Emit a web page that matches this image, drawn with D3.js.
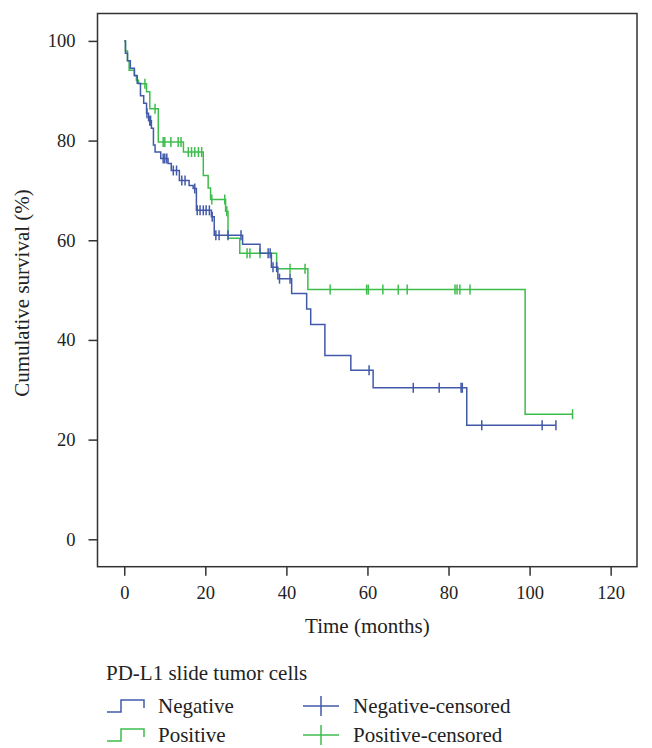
<!DOCTYPE html>
<html>
<head>
<meta charset="utf-8">
<script src="https://cdn.jsdelivr.net/npm/d3@7"></script>
<style>
  html, body { margin: 0; padding: 0; background: #fff; }
  svg { display: block; }
  text { font-family: "Liberation Serif", "DejaVu Serif", serif; fill: #222; }
</style>
</head>
<body>
<svg id="chart" width="652" height="748"></svg>
<script>
// ---------- data ----------
const seriesNames = ["Negative", "Positive"];
const legendTitle = "PD-L1 slide tumor cells";
const xTicks = [0, 20, 40, 60, 80, 100, 120];
const yTicks = [0, 20, 40, 60, 80, 100];

// Negative: event times (months) and survival (%) after each event
const negTimes = [0.3, 0.8, 1.5, 2.5, 3.2, 4.0, 4.8, 5.5, 6.0, 6.7, 7.2, 7.6, 9.0, 10.8, 11.6, 13.6, 16.0, 17.0, 17.8, 21.5, 22.2, 29.2, 33.5, 36.3, 37.9, 41.3, 45.0, 46.0, 49.5, 55.9, 61.4, 84.5];
const negSurv  = [97.5, 96, 94.5, 93, 91.5, 89, 87.5, 85.5, 84, 82.5, 79.1, 77.7, 76.4, 75.4, 74, 72, 71, 70.4, 66, 64.7, 61, 59.2, 57.4, 54.6, 52.3, 49.3, 46.2, 43.1, 36.9, 33.9, 30.4, 22.9];
const negCensor = [5.6, 6.3, 6.5, 9.6, 10.0, 10.5, 12.1, 12.9, 14.2, 15.0, 17.4, 18.0, 18.7, 19.5, 20.2, 21.0, 21.7, 22.6, 23.4, 25.6, 28.8, 35.5, 36.0, 36.7, 37.6, 38.3, 40.9, 60.4, 71.3, 77.7, 83.1, 83.4, 88.2, 103.1, 106.5];

// Positive
const posTimes = [0.3, 0.8, 1.2, 2.5, 3.0, 3.5, 5.5, 6.3, 8.4, 14.6, 19.5, 20.7, 21.3, 25.0, 25.6, 28.5, 37.6, 45.3, 98.9];
const posSurv  = [98, 96, 94.1, 93.1, 92.1, 91.4, 89.8, 86.4, 79.7, 77.7, 73, 70.5, 68.2, 65.8, 60.4, 57.4, 54.3, 50.1, 25.1];
const posCensor = [5.1, 7.6, 9.6, 10.0, 11.5, 13.3, 14.0, 15.8, 16.6, 17.4, 18.3, 19.1, 21.6, 24.8, 25.3, 30.3, 31.0, 33.5, 40.9, 44.6, 50.8, 59.8, 60.2, 63.8, 67.6, 69.8, 81.6, 82.1, 82.8, 85.3, 110.6];

const colors = { Negative: "#4259aa", Positive: "#3fbd4c" };

// ---------- layout ----------
const svg = d3.select("#chart");
const x = d3.scaleLinear().domain([-6.6, 126.5]).range([97.5, 637]);
const y = d3.scaleLinear().domain([-5.5, 105.5]).range([566.7, 13.5]);

// frame
svg.append("rect")
  .attr("x", x.range()[0]).attr("y", y.range()[1])
  .attr("width", x.range()[1] - x.range()[0])
  .attr("height", y.range()[0] - y.range()[1])
  .attr("fill", "none").attr("stroke", "#333").attr("stroke-width", 1.5);

const yAxis = svg.append("g")
  .attr("transform", `translate(${x.range()[0]},0)`)
  .call(d3.axisLeft(y).tickValues(yTicks).tickSize(9).tickPadding(13).tickSizeOuter(0));
const xAxis = svg.append("g")
  .attr("transform", `translate(0,${y.range()[0]})`)
  .call(d3.axisBottom(x).tickValues(xTicks).tickSize(9).tickPadding(10).tickSizeOuter(0));
[xAxis, yAxis].forEach(g => {
  g.select(".domain").remove();
  g.selectAll(".tick line").attr("stroke", "#333").attr("stroke-width", 1.5);
  g.selectAll(".tick text").attr("font-size", 18.5)
    .attr("font-family", '"Liberation Serif", serif').attr("fill", "#222");
});

// axis titles
svg.append("text")
  .attr("x", (x(0) + x(120)) / 2).attr("y", 633)
  .attr("text-anchor", "middle").attr("font-size", 21)
  .text("Time (months)");
svg.append("text")
  .attr("transform", "translate(29,293) rotate(-90)")
  .attr("text-anchor", "middle").attr("font-size", 21)
  .text("Cumulative survival (%)");

// curves
function buildSeries(times, surv, censor) {
  const pts = [[0, 100]];
  times.forEach((t, i) => pts.push([t, surv[i]]));
  const end = Math.max(times[times.length - 1], censor[censor.length - 1]);
  pts.push([end, surv[surv.length - 1]]);
  const survAt = t => {
    let s = 100;
    times.forEach((tt, i) => { if (tt <= t) s = surv[i]; });
    return s;
  };
  return { pts, marks: censor.map(t => [t, survAt(t)]) };
}
const data = {
  Negative: buildSeries(negTimes, negSurv, negCensor),
  Positive: buildSeries(posTimes, posSurv, posCensor)
};
const line = d3.line().x(d => x(d[0])).y(d => y(d[1])).curve(d3.curveStepAfter);

["Positive", "Negative"].forEach(name => {
  const g = svg.append("g");
  g.append("path").datum(data[name].pts)
    .attr("d", line).attr("fill", "none")
    .attr("stroke", colors[name]).attr("stroke-width", 1.5);
  g.selectAll("line.c").data(data[name].marks).join("line")
    .attr("x1", d => x(d[0])).attr("x2", d => x(d[0]))
    .attr("y1", d => y(d[1]) - 5).attr("y2", d => y(d[1]) + 5)
    .attr("stroke", colors[name]).attr("stroke-width", 1.5);
});

// legend
const lg = svg.append("g");
lg.append("text").attr("x", 106).attr("y", 680).attr("font-size", 21).text(legendTitle);
seriesNames.forEach((name, i) => {
  const cy = 706 + i * 29;
  lg.append("path")
    .attr("d", `M107,${cy + 6}H121V${cy - 6}H144V${cy + 2}`)
    .attr("fill", "none").attr("stroke", colors[name]).attr("stroke-width", 1.5);
  lg.append("text").attr("x", 158).attr("y", cy + 7).attr("font-size", 21).text(name);
  lg.append("line").attr("x1", 303).attr("x2", 339).attr("y1", cy).attr("y2", cy)
    .attr("stroke", colors[name]).attr("stroke-width", 1.5);
  lg.append("line").attr("x1", 321).attr("x2", 321).attr("y1", cy - 10).attr("y2", cy + 10)
    .attr("stroke", colors[name]).attr("stroke-width", 1.5);
  lg.append("text").attr("x", 353).attr("y", cy + 7).attr("font-size", 21).text(name + "-censored");
});
</script>
</body>
</html>
